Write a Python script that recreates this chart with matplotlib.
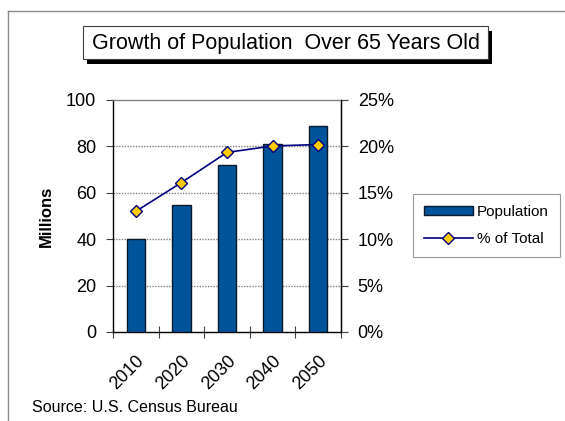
import matplotlib
matplotlib.use("Agg")
import matplotlib.pyplot as plt
from matplotlib.patches import Rectangle, Patch
from matplotlib.lines import Line2D
import numpy as np

plt.rcParams['font.family'] = ['Liberation Sans', 'DejaVu Sans']

years = ["2010", "2020", "2030", "2040", "2050"]
population_millions = [40.2, 54.8, 72.1, 81.1, 88.6]
pct_of_total = [13.0, 16.1, 19.35, 20.05, 20.2]

W, H = 565, 421
fig = plt.figure(figsize=(W / 100, H / 100), dpi=100)

def fx(px):
    return px / W

def fy(py):
    return 1 - py / H

# outer frame (top and left edges)
fig.add_artist(Line2D([fx(8), 1.0], [fy(11), fy(11)], transform=fig.transFigure,
                      color="#8C8C8C", lw=1.0))
fig.add_artist(Line2D([fx(8), fx(8)], [fy(11), 0.0], transform=fig.transFigure,
                      color="#8C8C8C", lw=1.0))

# title box with drop shadow
bx0, bx1, by0, by1 = 83, 488, 26, 59
fig.add_artist(Rectangle((fx(bx0 + 4), fy(by1 + 5)), fx(bx1 - bx0), (by1 - by0) / H,
                         transform=fig.transFigure, facecolor="black", edgecolor="black", lw=0))
fig.add_artist(Rectangle((fx(bx0), fy(by1)), fx(bx1 - bx0), (by1 - by0) / H,
                         transform=fig.transFigure, facecolor="white", edgecolor="#404040", lw=0.8))
fig.text(fx((bx0 + bx1) / 2), fy((by0 + by1) / 2 + 1), "Growth of Population  Over 65 Years Old",
         ha="center", va="center", fontsize=15.5)

# plot area
L, R, T, B = 113, 341, 100, 332
ax = fig.add_axes([fx(L), fy(B), fx(R - L), (B - T) / H])
x = np.arange(len(years))
ax.bar(x, population_millions, width=0.4, color="#00559A", edgecolor="#0A1A2A",
       linewidth=1.0, zorder=3)
ax.set_xlim(-0.5, len(years) - 0.5)
ax.set_ylim(0, 100)
ax.set_yticks([0, 20, 40, 60, 80, 100])
ax.set_yticklabels(["0", "20", "40", "60", "80", "100"], fontsize=13)
for g in [20, 40, 60, 80]:
    ax.axhline(g, color="#808080", lw=1.0, ls=(0, (1, 1)), zorder=1)
ax.set_xticks(np.arange(len(years) + 1) - 0.5)
ax.set_xticklabels([])
ax.set_xticks(x, minor=True)
ax.set_xticklabels(years, minor=True, rotation=45, ha="right", rotation_mode="anchor",
                   fontsize=13)
ax.tick_params(axis="x", which="minor", length=0, pad=15)
ax.tick_params(axis="x", which="major", direction="inout", length=9, color="#404040")
ax.tick_params(axis="y", direction="out", length=5, color="#404040", pad=7)
for side in ["left", "bottom", "right"]:
    ax.spines[side].set_color("black")
    ax.spines[side].set_linewidth(1.0)
ax.spines["top"].set_color("#808080")
ax.spines["top"].set_linewidth(1.0)
ax.set_ylabel("Millions", fontsize=12, fontweight="bold", labelpad=9)

ax2 = ax.twinx()
ax2.plot(x, pct_of_total, color="#000080", lw=1.2, marker="D", markersize=6,
         markerfacecolor="#FFCC00", markeredgecolor="#000080", markeredgewidth=1.0, zorder=4)
ax2.set_ylim(0, 25)
ax2.set_yticks([0, 5, 10, 15, 20, 25])
ax2.set_yticklabels([f"{v}%" for v in [0, 5, 10, 15, 20, 25]], fontsize=13)
ax2.tick_params(axis="y", direction="out", length=5, color="#404040", pad=7)
for side in ["left", "bottom", "top"]:
    ax2.spines[side].set_visible(False)
ax2.spines["right"].set_color("black")

# legend
handles = [Patch(facecolor="#00559A", edgecolor="#0A1A2A", lw=1.0),
           Line2D([], [], color="#000080", lw=1.2, marker="D", markersize=6,
                  markerfacecolor="#FFCC00", markeredgecolor="#000080")]
leg = fig.legend(handles, ["Population", "% of Total"], loc="upper left",
                 bbox_to_anchor=(fx(413), fy(194)), fontsize=11, frameon=True,
                 fancybox=False, edgecolor="#808080", handlelength=3.2, handleheight=0.55,
                 handletextpad=0.3, borderpad=0.7, labelspacing=0.9, borderaxespad=0)
leg.get_frame().set_linewidth(0.8)

fig.text(fx(32), fy(407), "Source: U.S. Census Bureau", ha="left", va="center", fontsize=11.5)

fig.savefig("out.png", dpi=100)
